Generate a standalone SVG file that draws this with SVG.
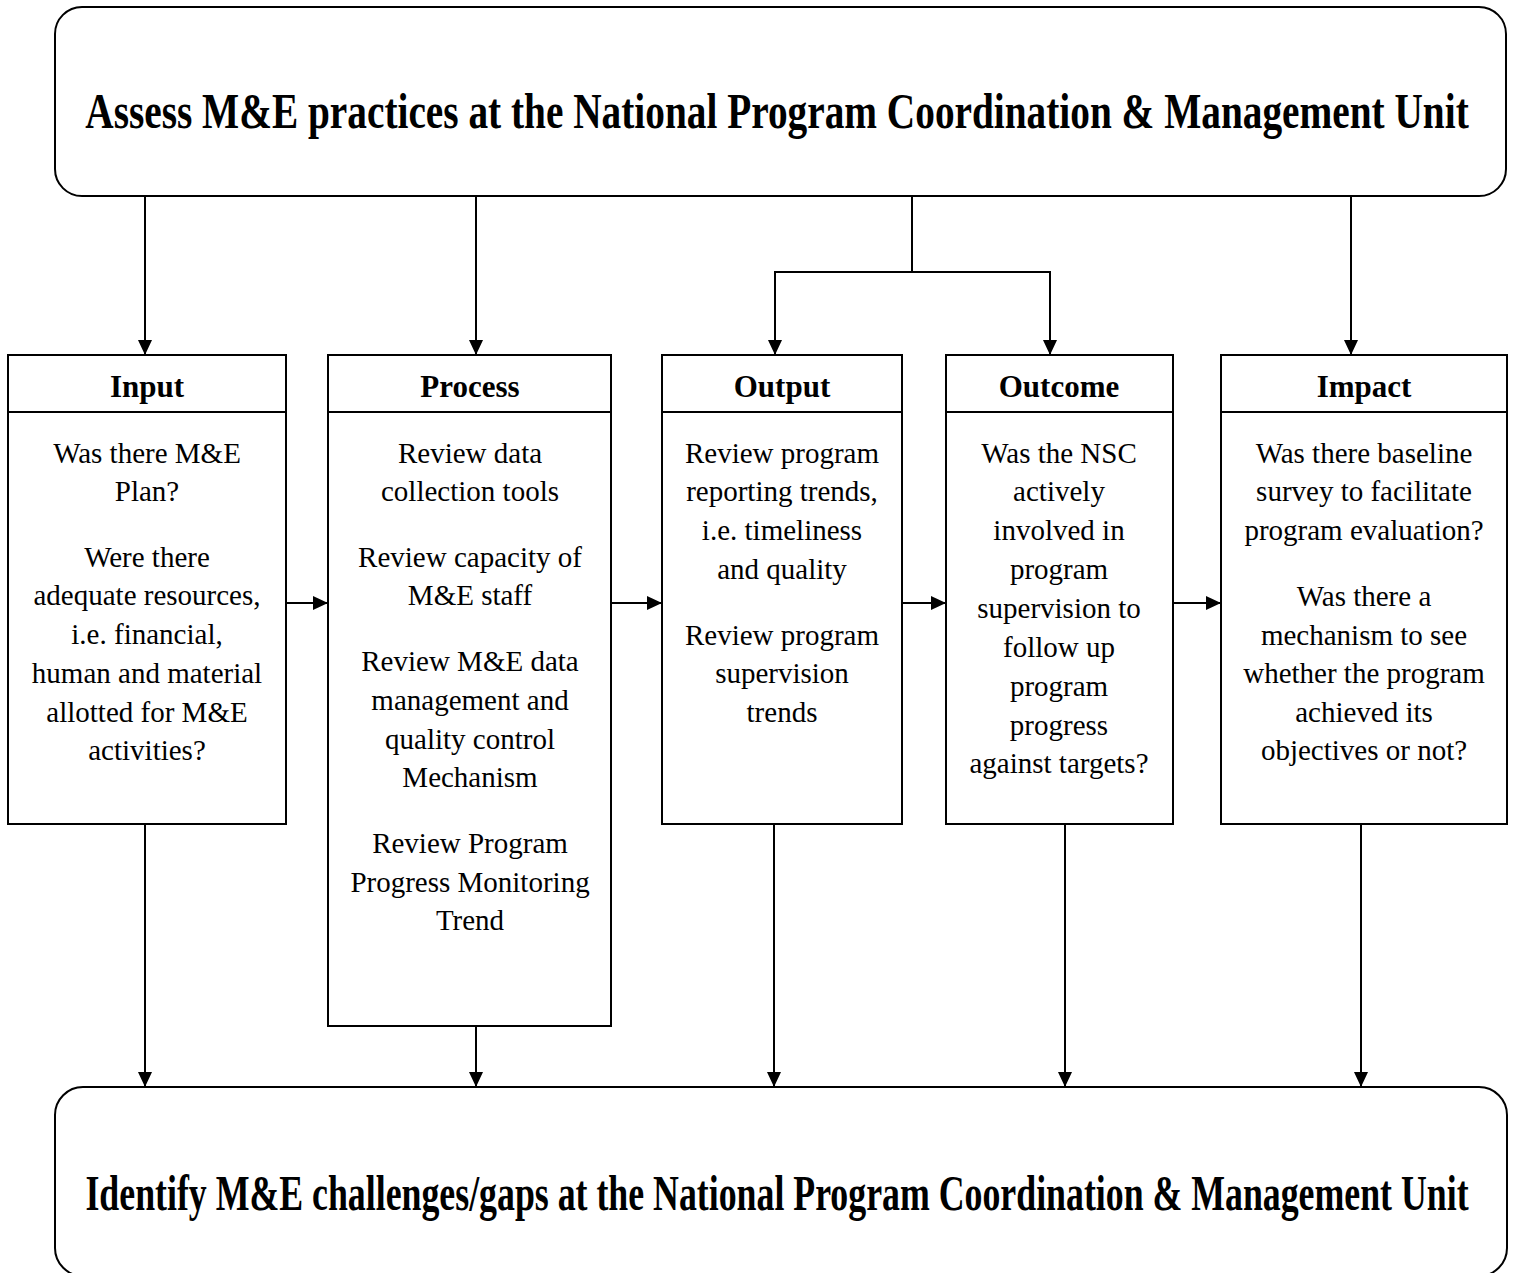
<svg xmlns="http://www.w3.org/2000/svg" width="1514" height="1273" viewBox="0 0 1514 1273">
  <style>
    .frame { fill: #ffffff; stroke: #000000; stroke-width: 2; }
    .wire { fill: none; stroke: #000000; stroke-width: 2; }
    .title { font-family: "Liberation Serif", "Times New Roman", serif; font-weight: bold; font-size: 51px; fill: #000000; text-anchor: middle; }
    .head { font-family: "Liberation Serif", "Times New Roman", serif; font-weight: bold; font-size: 31px; fill: #000000; text-anchor: middle; }
    .body { font-family: "Liberation Serif", "Times New Roman", serif; font-size: 29px; fill: #000000; text-anchor: middle; }
  </style>
  <defs>
    <marker id="arrow" markerUnits="userSpaceOnUse" markerWidth="15" markerHeight="14" refX="15" refY="7" orient="auto">
      <path d="M0,0 L15,7 L0,14 Z" fill="#000000"/>
    </marker>
  </defs>
  <rect width="1514" height="1273" fill="#ffffff"/>

  <!-- connectors -->
  <g id="connectors" class="wire" marker-end="url(#arrow)">
    <!-- from the assessment box down to each stage -->
    <line x1="145" y1="196" x2="145" y2="355"/>
    <line x1="476" y1="196" x2="476" y2="355"/>
    <polyline points="912,196 912,272 775,272 775,355"/>
    <polyline points="912,272 1050,272 1050,355"/>
    <line x1="1351" y1="196" x2="1351" y2="355"/>
    <!-- stage to stage -->
    <line x1="286" y1="603" x2="328" y2="603"/>
    <line x1="611" y1="603" x2="662" y2="603"/>
    <line x1="902" y1="603" x2="946" y2="603"/>
    <line x1="1173" y1="603" x2="1221" y2="603"/>
    <!-- each stage down to the gaps box -->
    <line x1="145" y1="824" x2="145" y2="1087"/>
    <line x1="476" y1="1026" x2="476" y2="1087"/>
    <line x1="774" y1="824" x2="774" y2="1087"/>
    <line x1="1065" y1="824" x2="1065" y2="1087"/>
    <line x1="1361" y1="824" x2="1361" y2="1087"/>
  </g>

  <!-- top: assessment -->
  <g id="assess">
    <rect class="frame" x="55" y="7" width="1451" height="189" rx="27" ry="27"/>
    <text class="title" transform="translate(777,128) scale(0.771,1)" x="0" y="0">Assess M&amp;E practices at the National Program Coordination &amp; Management Unit</text>
  </g>

  <!-- Input -->
  <g id="input">
    <rect class="frame" x="8" y="355" width="278" height="469"/>
    <line class="wire" x1="8" y1="412" x2="286" y2="412"/>
    <text class="head" x="147" y="397">Input</text>
    <text class="body"><tspan x="147" y="463">Was there M&amp;E</tspan><tspan x="147" y="501">Plan?</tspan><tspan x="147" y="567">Were there</tspan><tspan x="147" y="605">adequate resources,</tspan><tspan x="147" y="644">i.e. financial,</tspan><tspan x="147" y="683">human and material</tspan><tspan x="147" y="722">allotted for M&amp;E</tspan><tspan x="147" y="760">activities?</tspan></text>
  </g>

  <!-- Process -->
  <g id="process">
    <rect class="frame" x="328" y="355" width="283" height="671"/>
    <line class="wire" x1="328" y1="412" x2="611" y2="412"/>
    <text class="head" x="470" y="397">Process</text>
    <text class="body"><tspan x="470" y="463">Review data</tspan><tspan x="470" y="501">collection tools</tspan><tspan x="470" y="567">Review capacity of</tspan><tspan x="470" y="605">M&amp;E staff</tspan><tspan x="470" y="671">Review M&amp;E data</tspan><tspan x="470" y="710">management and</tspan><tspan x="470" y="749">quality control</tspan><tspan x="470" y="787">Mechanism</tspan><tspan x="470" y="853">Review Program</tspan><tspan x="470" y="892">Progress Monitoring</tspan><tspan x="470" y="930">Trend</tspan></text>
  </g>

  <!-- Output -->
  <g id="output">
    <rect class="frame" x="662" y="355" width="240" height="469"/>
    <line class="wire" x1="662" y1="412" x2="902" y2="412"/>
    <text class="head" x="782" y="397">Output</text>
    <text class="body"><tspan x="782" y="463">Review program</tspan><tspan x="782" y="501">reporting trends,</tspan><tspan x="782" y="540">i.e. timeliness</tspan><tspan x="782" y="579">and quality</tspan><tspan x="782" y="645">Review program</tspan><tspan x="782" y="683">supervision</tspan><tspan x="782" y="722">trends</tspan></text>
  </g>

  <!-- Outcome -->
  <g id="outcome">
    <rect class="frame" x="946" y="355" width="227" height="469"/>
    <line class="wire" x1="946" y1="412" x2="1173" y2="412"/>
    <text class="head" x="1059" y="397">Outcome</text>
    <text class="body"><tspan x="1059" y="463">Was the NSC</tspan><tspan x="1059" y="501">actively</tspan><tspan x="1059" y="540">involved in</tspan><tspan x="1059" y="579">program</tspan><tspan x="1059" y="618">supervision to</tspan><tspan x="1059" y="657">follow up</tspan><tspan x="1059" y="696">program</tspan><tspan x="1059" y="735">progress</tspan><tspan x="1059" y="773">against targets?</tspan></text>
  </g>

  <!-- Impact -->
  <g id="impact">
    <rect class="frame" x="1221" y="355" width="286" height="469"/>
    <line class="wire" x1="1221" y1="412" x2="1507" y2="412"/>
    <text class="head" x="1364" y="397">Impact</text>
    <text class="body"><tspan x="1364" y="463">Was there baseline</tspan><tspan x="1364" y="501">survey to facilitate</tspan><tspan x="1364" y="540">program evaluation?</tspan><tspan x="1364" y="606">Was there a</tspan><tspan x="1364" y="645">mechanism to see</tspan><tspan x="1364" y="683">whether the program</tspan><tspan x="1364" y="722">achieved its</tspan><tspan x="1364" y="760">objectives or not?</tspan></text>
  </g>

  <!-- bottom: gaps -->
  <g id="gaps">
    <rect class="frame" x="55" y="1087" width="1452" height="189" rx="28" ry="28"/>
    <text class="title" transform="translate(777,1210) scale(0.702,1)" x="0" y="0">Identify M&amp;E challenges/gaps at the National Program Coordination &amp; Management Unit</text>
  </g>
</svg>
